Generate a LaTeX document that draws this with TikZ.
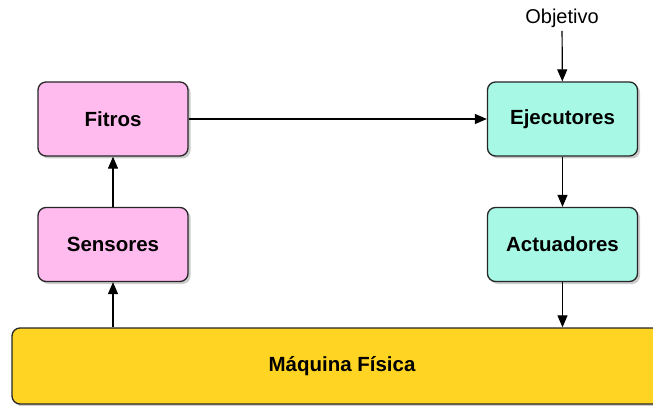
\documentclass[tikz,border=0pt]{standalone}
\usepackage{fontspec}
\setmainfont{Liberation Sans}
\usetikzlibrary{shadows,arrows.meta}
\definecolor{pinkfill}{HTML}{FFBBEE}
\definecolor{aquafill}{HTML}{A8F8E6}
\definecolor{goldfill}{HTML}{FFD422}
\tikzset{
  block/.style={draw=black!85, line width=1.3pt, rounded corners=8pt,
    minimum width=150pt, minimum height=74pt, font=\bfseries\fontsize{20.5}{24}\selectfont,
    drop shadow={shadow xshift=2.5pt, shadow yshift=-2.5pt, opacity=0.4}},
  link/.style={-{Triangle[length=12pt,width=10pt]}, line width=1.2pt, black}
}
\begin{document}
\begin{tikzpicture}[x=1pt,y=-1pt]
\useasboundingbox (0,0) rectangle (653,406);
\begin{scope}
\clip (0,0) rectangle (653,406);
\node[block, fill=goldfill, minimum width=660pt, minimum height=76pt] (maq) at (342,366) {Máquina Física};
\end{scope}
\node[block, fill=pinkfill] (fil) at (113,119) {Fitros};
\node[block, fill=pinkfill] (sen) at (113,244.5) {Sensores};
\node[block, fill=aquafill] (eje) at (562.5,119) {Ejecutores};
\node[block, fill=aquafill] (act) at (562.5,244.5) {Actuadores};
\node[font=\fontsize{20}{24}\selectfont] (obj) at (562,18) {Objetivo};
\draw[link] (sen) -- (fil);
\draw[link] (maq.north -| sen) -- (sen);
\draw[link] (fil) -- (eje);
\draw[link] (obj) -- (eje);
\draw[link] (eje) -- (act);
\draw[link] (act) -- (maq.north -| act);
\end{tikzpicture}
\end{document}
